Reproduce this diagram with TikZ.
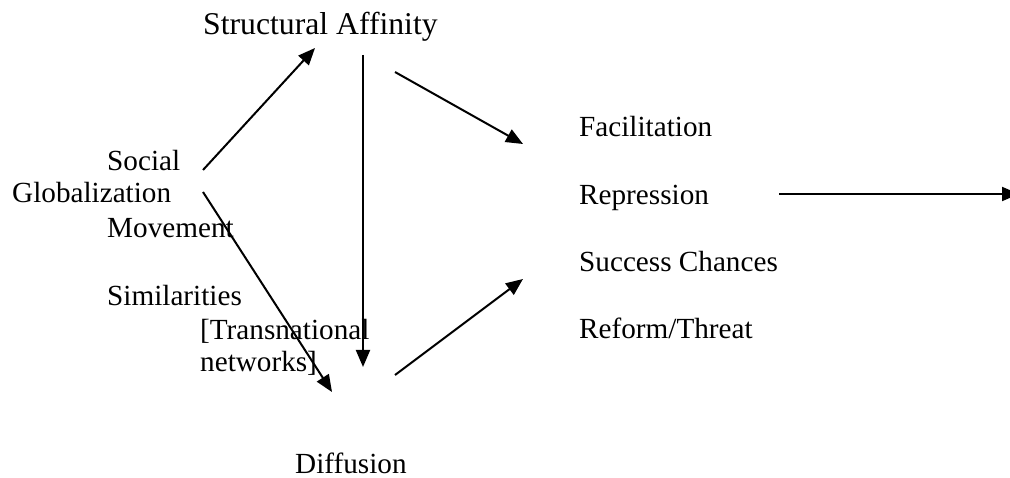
\documentclass[tikz,border=0pt]{standalone}
\usepackage{fontspec}
\setmainfont{Liberation Serif}
\usetikzlibrary{arrows.meta}
\begin{document}
\begin{tikzpicture}[x=1pt,y=-1pt,
  lbl/.style={anchor=base west,inner sep=0pt,font=\fontsize{29.2}{35}\selectfont},
  title/.style={lbl,font=\fontsize{31.7}{38}\selectfont},
  arr/.style={line width=2pt,-{Triangle[length=17pt,width=14pt]}}]
\useasboundingbox (0,0) rectangle (1010,478);
% labels
\node[title] (sa) at (203,35) {Structural Affinity};
\node[lbl] (soc) at (107,171) {Social};
\node[lbl] (glob) at (12,203) {Globalization};
\node[lbl] (mov) at (107,238) {Movement};
\node[lbl] (sim) at (107,306) {Similarities};
\node[lbl] (tn) at (200,340) {[Transnational};
\node[lbl] (nw) at (200,372) {networks]};
\node[lbl] (dif) at (295,473) {Diffusion};
\node[lbl] (fac) at (579,137) {Facilitation};
\node[lbl] (rep) at (579,205) {Repression};
\node[lbl] (suc) at (579,272) {Success Chances};
\node[lbl] (ref) at (579,339) {Reform/Threat};
% connector end points
\coordinate (a1s) at (203,170);
\coordinate (a1e) at (315,48);
\coordinate (a2s) at (203,192);
\coordinate (a2e) at (332,392);
\coordinate (a3s) at (363,55);
\coordinate (a3e) at (363,367);
\coordinate (a4s) at (395,72);
\coordinate (a4e) at (523,144);
\coordinate (a5s) at (395,375);
\coordinate (a5e) at (523,279);
\coordinate (a6s) at (779,194);
\coordinate (a6e) at (1019,194);
\draw[arr] (a1s) -- (a1e);
\draw[arr] (a2s) -- (a2e);
\draw[arr] (a3s) -- (a3e);
\draw[arr] (a4s) -- (a4e);
\draw[arr] (a5s) -- (a5e);
\draw[arr] (a6s) -- (a6e);
\end{tikzpicture}
\end{document}
